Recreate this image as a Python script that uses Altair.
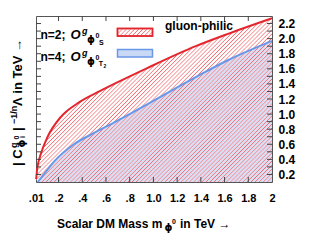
import math
import altair as alt
import pandas as pd

# ---- data ----
mass_red = [0.01, 0.0125, 0.02, 0.03, 0.05, 0.105, 0.218, 0.358, 0.556, 0.682, 0.948, 1.357, 1.623, 2.0]
lam_red = [0.14, 0.16, 0.28, 0.36, 0.47, 0.69, 0.96, 1.14, 1.31, 1.41, 1.61, 1.90, 2.06, 2.27]
mass_blue = [0.025, 0.07, 0.162, 0.33, 0.5, 0.682, 0.948, 1.357, 1.623, 2.0]
lam_blue = [0.10, 0.19, 0.37, 0.60, 0.75, 0.90, 1.13, 1.49, 1.71, 1.97]
x_ticks = [0.01, 0.2, 0.4, 0.6, 0.8, 1.0, 1.2, 1.4, 1.6, 1.8, 2.0]
x_minor = [0.2, 0.4, 0.6, 0.8, 1.0, 1.2, 1.4, 1.6, 1.8]
y_labels = [0.2, 0.4, 0.6, 0.8, 1.0, 1.2, 1.4, 1.6, 1.8, 2.0, 2.2]
y_minor = [0.2, 0.3, 0.4, 0.5, 0.6, 0.7, 0.8, 0.9, 1.0, 1.1, 1.2, 1.3, 1.4, 1.5,
           1.6, 1.7, 1.8, 1.9, 2.0, 2.1, 2.2]

X_DOM = [0.01, 2.0]
Y_DOM = [0.1, 2.3]
W, H = 236, 166
OX, OY = 36, 16  # plot origin on the page

red_df = pd.DataFrame({"m": mass_red, "v": lam_red})
blue_df = pd.DataFrame({"m": mass_blue, "v": lam_blue})

xs = alt.Scale(domain=X_DOM, nice=False, zero=False)
ys = alt.Scale(domain=Y_DOM, nice=False, zero=False)

XAX = alt.Axis(values=x_ticks, ticks=False, domain=False, grid=False, title=None,
               labelFont="Liberation Sans", labelFontSize=11, labelFontWeight="bold",
               labelColor="black", labelPadding=10, tickSize=0, labelFlush=False,
               labelOverlap=False,
               labelExpr="datum.value == 0.01 ? '.01' : datum.value < 1 ? replace(format(datum.value, '.1f'), '0.', '.') : datum.value == 2 ? '2' : format(datum.value, '.1f')")
YAX = alt.Axis(orient="right", values=y_labels, format=".1f", ticks=False, domain=False,
               grid=False, title=None, labelFont="Liberation Sans", labelFontSize=12,
               labelFontWeight="bold", labelColor="black", labelPadding=6, tickSize=0,
               labelOverlap=False, labelFlush=False)


def X(f):
    return alt.X(f, scale=xs, axis=XAX)


def Y(f):
    return alt.Y(f, scale=ys, axis=YAX)


RED = "#e3262d"
BLUE = "#6a98e8"
STRIPE = "#f0666b"


def stripes(color, bw, bh, period=2.9, lw=1.0):
    k = (bw + bh) * bw / (bw * bw + bh * bh)
    total = bw + bh
    pc = period * math.sqrt(2)
    lc = lw * math.sqrt(2) * 2
    stops = []
    c = 0.0
    clear = "rgba(255,255,255,0)"
    while c < total:
        a = c / total
        b = min((c + lc / 2) / total, 1)
        d = min((c + lc) / total, 1)
        stops += [alt.GradientStop(color=clear, offset=a),
                  alt.GradientStop(color=color, offset=b),
                  alt.GradientStop(color=clear, offset=d)]
        c += pc
    return alt.LinearGradient(gradient="linear", stops=stops, x1=0, y1=0, x2=k, y2=k * bh / bw)


# bbox of red area in pixels
red_top = (Y_DOM[1] - max(lam_red)) / (Y_DOM[1] - Y_DOM[0]) * H
red_grad = stripes(STRIPE, W, H - red_top)

blue_area = alt.Chart(blue_df).mark_area(fill="#d6dff7", interpolate="monotone").encode(
    x=X("m:Q"), y=Y("v:Q"), y2=alt.datum(0.1))
red_area = alt.Chart(red_df).mark_area(fill=red_grad, interpolate="monotone").encode(
    x=X("m:Q"), y=Y("v:Q"), y2=alt.datum(0.1))
red_line = alt.Chart(red_df).mark_line(color=RED, strokeWidth=2, interpolate="monotone").encode(
    x=X("m:Q"), y=Y("v:Q"))
blue_line = alt.Chart(blue_df).mark_line(color=BLUE, strokeWidth=2, interpolate="monotone").encode(
    x=X("m:Q"), y=Y("v:Q"))

TICK = "#444444"
xt = pd.DataFrame({"m": x_minor})
yt = pd.DataFrame({"v": y_minor})
xt_bot = alt.Chart(xt).mark_rule(color=TICK, strokeWidth=1).encode(
    x=X("m:Q"), y=alt.value(H), y2=alt.value(H - 5))
xt_top = alt.Chart(xt).mark_rule(color=TICK, strokeWidth=1).encode(
    x=X("m:Q"), y=alt.value(0), y2=alt.value(5))
yt_left = alt.Chart(yt).mark_rule(color=TICK, strokeWidth=1).encode(
    y=Y("v:Q"), x=alt.value(0), x2=alt.value(5))
yt_right = alt.Chart(yt).mark_rule(color=TICK, strokeWidth=1).encode(
    y=Y("v:Q"), x=alt.value(W), x2=alt.value(W - 5))


def txt(s, x, y, size=12, weight="bold", style="normal", font="Liberation Sans",
        align="left", baseline="alphabetic", angle=0):
    return alt.Chart(alt.Data(values=[{}])).mark_text(
        text=s, font=font, fontSize=size, fontWeight=weight, fontStyle=style,
        align=align, baseline=baseline, angle=angle, color="black").encode(
        x=alt.value(x - OX), y=alt.value(y - OY))


def box(x1, y1, x2, y2, fill, stroke):
    return alt.Chart(alt.Data(values=[{}])).mark_rect(fill=fill, stroke=stroke, strokeWidth=1.5).encode(
        x=alt.value(x1 - OX), x2=alt.value(x2 - OX), y=alt.value(y1 - OY), y2=alt.value(y2 - OY))


texts = []
# legend rows
for base, last in [(39.0, "S"), (60.7, "T")]:
    lab = "n=2;" if last == "S" else "n=4;"
    texts.append(txt(lab, 40.5, base, 12, "bold"))
    texts.append(txt("O", 70.5, base, 13, "bold", "italic"))
    texts.append(txt("g", 82, base - 5, 9, "bold", "italic"))
    texts.append(txt("ϕ", 87, base + 4, 10, "bold", font="DejaVu Sans"))
    texts.append(txt("0", 95.5, base - 1, 7, "bold"))
    if last == "S":
        texts.append(txt("S", 99, base + 5.7, 7, "bold"))
    else:
        texts.append(txt("T", 98.8, base + 5.5, 7, "bold"))
        texts.append(txt("2", 103.5, base + 7, 5, "bold"))
texts.append(txt("gluon-philic", 165, 29.5, 12, "bold"))

# x title
texts.append(txt("Scalar DM Mass m", 57, 227.5, 12, "bold"))
texts.append(txt("ϕ", 164.5, 231, 10, "bold", font="DejaVu Sans"))
texts.append(txt("0", 172, 223.5, 7, "bold"))
texts.append(txt("in TeV →", 180, 227.5, 12, "bold"))

# y title (rotated)
texts.append(txt("| C", 18, 166, 13, "bold", baseline="middle", angle=270))
texts.append(txt("g", 13.5, 148, 9, "bold", baseline="middle", angle=270))
texts.append(txt("ϕ", 22, 147.5, 10, "bold", font="DejaVu Sans", baseline="middle", angle=270))
texts.append(txt("0", 16.5, 139.5, 7, "bold", baseline="middle", angle=270))
texts.append(txt("i", 23, 138, 7, "bold", baseline="middle", angle=270))
texts.append(txt("|", 18, 131, 13, "bold", baseline="middle", angle=270))
texts.append(txt("−1/n", 13.5, 124, 9, "bold", baseline="middle", angle=270))
texts.append(txt("Λ in TeV →", 18, 106, 13, "bold", baseline="middle", angle=270))

legend_boxes = [
    box(117.5, 28.5, 152.5, 36, "white", RED),
    box(117.5, 28.5, 152.5, 36, stripes(STRIPE, 35, 7.5), RED),
    box(117.5, 49.5, 152.5, 57, "#c9d8f5", BLUE),
]

chart = alt.layer(
    blue_area, red_area, blue_line, red_line,
    xt_bot, xt_top, yt_left, yt_right,
    *legend_boxes, *texts
).properties(
    width=W, height=H,
    autosize=alt.AutoSizeParams(type="none"),
    padding={"left": 28, "top": 8, "right": 54, "bottom": 60},
    background="white",
).configure_view(stroke="#555555", strokeWidth=1).configure_axis(labelOverlap=False)

chart.save("out.html", embed_options={"renderer": "svg", "actions": False})
